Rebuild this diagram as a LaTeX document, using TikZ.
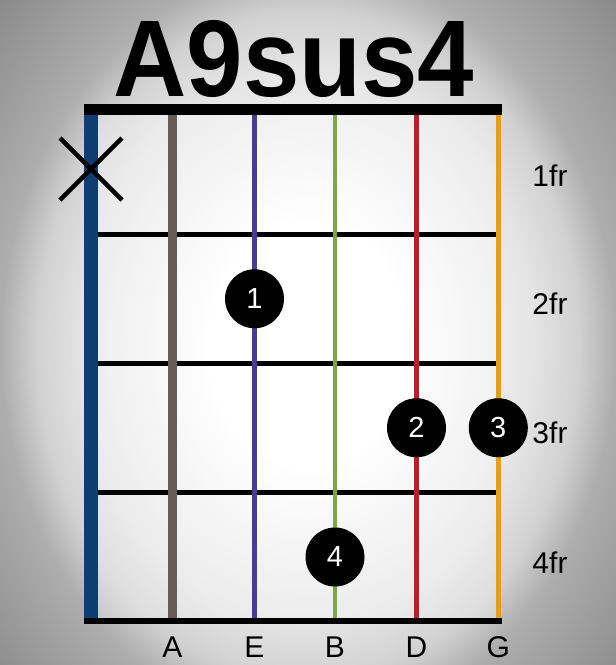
\documentclass[tikz,border=0pt]{standalone}
\usepackage{fontspec}
\setmainfont{Liberation Sans}
\usetikzlibrary{positioning}

\definecolor{strblue}{HTML}{0F3D72}
\definecolor{strbrown}{HTML}{6A5A58}
\definecolor{strpurple}{HTML}{4A3C86}
\definecolor{strgreen}{HTML}{7BA64C}
\definecolor{strred}{HTML}{B0232A}
\definecolor{strorange}{HTML}{E09E22}

\pgfdeclareradialshading{vignette}{\pgfpoint{0bp}{0bp}}{color(0bp)=(white); color(8bp)=(white); color(18bp)=(black!10); color(22bp)=(black!18); color(25bp)=(black!32); color(34bp)=(black!46); color(50bp)=(black!46)}

\tikzset{
	fretline/.style={line width=5pt},
	mutemark/.style={line width=4.5pt},
	fingerdot/.style={circle,fill=black,minimum size=59pt,inner sep=0pt,text=white,font=\fontsize{29}{29}\selectfont},
	fretlabel/.style={anchor=base,font=\fontsize{30}{30}\selectfont},
	stringlabel/.style={anchor=base,font=\fontsize{30}{30}\selectfont},
	chordname/.style={anchor=base,font=\fontsize{109}{109}\selectfont\bfseries}
}

\begin{document}
\begin{tikzpicture}[x=1pt,y=-1pt]
	\useasboundingbox (0,0) rectangle (616,665);
	\begin{scope}
		\clip (0,0) rectangle (616,665);
		\shade[shading=vignette] (0,-35) rectangle (616,725);
	\end{scope}
	\fill[white,opacity=0.3] (98,115) rectangle (497,618);
	% frets, nut and end bar
	\foreach \y in {234.5,363,492.5}
		{\draw[fretline] (98,\y) -- (497,\y);}
	\fill (84,104) rectangle (502,115);
	\fill (84,618) rectangle (502,624);
	% strings
	\foreach \x/\c/\w in {91/strblue/14pt, 172.5/strbrown/9pt, 254.5/strpurple/4.5pt, 335/strgreen/4.5pt, 416.5/strred/5pt, 498.3/strorange/4.5pt}
		{\draw[\c,line width=\w] (\x,115) -- (\x,618);}
	% muted string
	\coordinate (mute) at (91,169);
	\draw[mutemark] ([shift={(-31,-31)}]mute) -- ([shift={(31,31)}]mute);
	\draw[mutemark] ([shift={(-31,31)}]mute) -- ([shift={(31,-31)}]mute);
	% fingers
	\node[fingerdot] (f1) at (254.5,298.75) {1};
	\node[fingerdot] (f2) at (416.5,427.75) {2};
	\node[fingerdot] (f3) at (498.3,427.75) {3};
	\node[fingerdot] (f4) at (335,557) {4};
	% labels
	\node[chordname] (chord) at (294,96) {\scalebox{0.93}[1]{A9sus4}};
	\foreach \r/\y in {1/170, 2/298.75, 3/427.75, 4/557}
		{\node[fretlabel] (fr\r) at (550,{\y+16}) {\r fr};}
	\foreach \n/\x in {A/172.5, E/254.5, B/335, D/416.5, G/498.3}
		{\node[stringlabel] (s\n) at (\x,657) {\n};}
\end{tikzpicture}
\end{document}
